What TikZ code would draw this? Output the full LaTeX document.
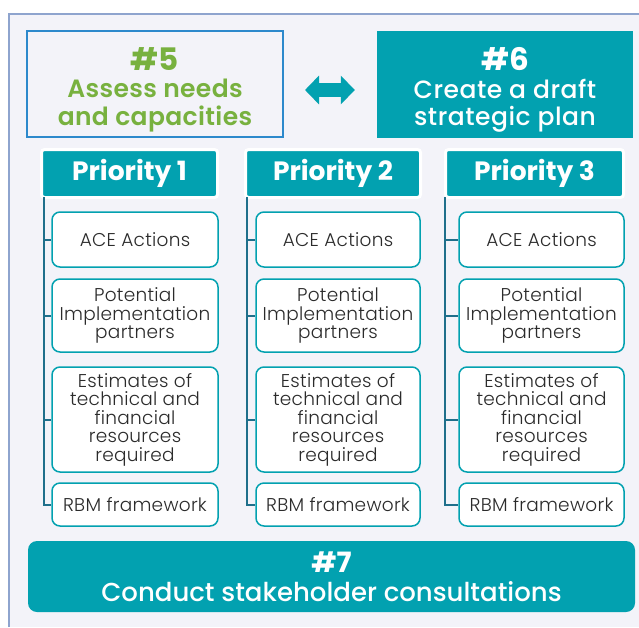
\documentclass[tikz,border=0pt]{standalone}
\usepackage{fontspec}
\setmainfont{Poppins}
\newfontfamily\medfont{Poppins Medium}[LetterSpace=2]
\newfontfamily\medplain{Poppins Medium}
\newfontfamily\semifont{Poppins SemiBold}[LetterSpace=1.5]
\newfontfamily\lightfont{Poppins Light}[LetterSpace=1.5]
\usetikzlibrary{arrows.meta}

\definecolor{aceteal}{HTML}{02A1B0}
\definecolor{panelbg}{HTML}{F3F3F9}
\definecolor{panelline}{HTML}{8EA4CE}
\definecolor{spineblue}{HTML}{1F6F8B}
\definecolor{stepgreen}{HTML}{78B13F}
\definecolor{stepblue}{HTML}{2D89CC}
\definecolor{textgrey}{HTML}{2B2B2B}

\tikzset{
  prioritybox/.style={fill=aceteal,draw=white,line width=3pt,rounded corners=3pt,text=white,
    font=\bfseries\fontsize{26.5}{26.5}\selectfont,minimum height=48pt,inner sep=0pt},
  itembox/.style={fill=white,draw=aceteal,line width=1.5pt,rounded corners=8pt,text=textgrey,
    align=center,font=\lightfont\fontsize{18.5}{18.5}\selectfont,inner sep=0pt},
  spine/.style={draw=spineblue,line width=2pt},
}

\begin{document}
\begin{tikzpicture}[x=1pt,y=-1pt]
  \useasboundingbox (0,0) rectangle (639,627);
  \fill[panelbg] (9,14) rectangle (639,627);
  \draw[panelline,line width=1.2pt] (9,627) -- (9,14) -- (639,14);

  \node[draw=stepblue,line width=2pt,fill=panelbg,minimum width=256pt,minimum height=106pt,
    text=stepgreen,align=center,font=\semifont\fontsize{25}{27.5}\selectfont] (s5) at (155,84)
    {{\rmfamily\bfseries\fontsize{31}{27.5}\selectfont\rule{0pt}{34pt}\#5}\\Assess needs\\and capacities};
  \node[fill=aceteal,minimum width=256pt,minimum height=107pt,text=white,align=center,
    font=\medfont\fontsize{25}{27.5}\selectfont] (s6) at (505,84.5)
    {{\rmfamily\bfseries\fontsize{31}{27.5}\selectfont\rule{0pt}{34pt}\#6}\\Create a draft\\strategic plan};
  \draw[aceteal,line width=14pt,{Triangle[length=14pt,width=28pt]}-{Triangle[length=14pt,width=28pt]},
    shorten <=21pt,shorten >=22pt] ([yshift=-6pt]s5.east) -- ([yshift=-6pt]s5.east -| s6.west);

  \foreach \c/\hx/\hw/\bx/\bw/\sx in {1/129.5/176pt/135/166pt/44, 2/333/175pt/338/164pt/247, 3/534.5/178pt/541.5/165pt/445} {
    \node[prioritybox,minimum width=\hw] (p\c) at (\hx,173.5) {Priority \c};
    \node[itembox,minimum width=\bw,minimum height=55pt] (ace\c) at (\bx,239.5) {ACE Actions};
    \node[itembox,minimum width=\bw,minimum height=73pt] (partner\c) at (\bx,315.5) {Potential\\Implementation\\partners};
    \node[itembox,minimum width=\bw,minimum height=105pt] (cost\c) at (\bx,419.5) {Estimates of\\technical and\\financial\\resources\\required};
    \node[itembox,minimum width=\bw,minimum height=43pt] (rbm\c) at (\bx,504.5) {RBM framework};
    \coordinate (top\c) at (\sx,197);
    \draw[spine] (top\c) |- (rbm\c.west);
    \draw[spine] (top\c |- ace\c.west) -- (ace\c.west);
    \draw[spine] (top\c |- partner\c.west) -- (partner\c.west);
    \draw[spine] (top\c |- cost\c.west) -- (cost\c.west);
  }

  \node[fill=aceteal,rounded corners=9pt,minimum width=607pt,minimum height=71pt,text=white,
    align=center,font=\medplain\fontsize{26}{29}\selectfont] (s7) at (331.5,576.5)
    {{\rmfamily\bfseries\fontsize{28}{29}\selectfont\#7}\\Conduct stakeholder consultations};
\end{tikzpicture}
\end{document}
